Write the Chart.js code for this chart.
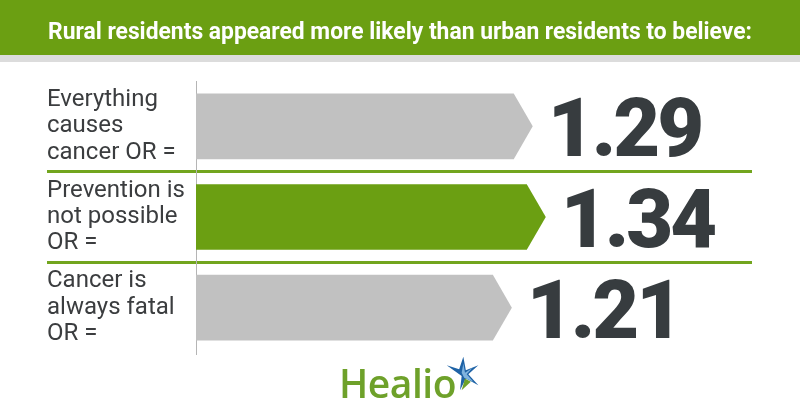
<!DOCTYPE html>
<html>
<head>
<meta charset="utf-8">
<script src="https://cdn.jsdelivr.net/npm/chart.js@4.4.1/dist/chart.umd.min.js"></script>
<style>
  body { margin: 0; background: #fff; }
  #wrap { position: relative; width: 800px; height: 420px; }
  #logo { position: absolute; left: 339px; top: 363px; font-family: "Open Sans", sans-serif; font-weight: 600; font-size: 39px; color: #6ea12a; line-height: 1; letter-spacing: -0.5px; }
  #star { position: absolute; left: 445px; top: 356px; }
</style>
</head>
<body>
<div id="wrap">
  <canvas id="chart" width="800" height="420"></canvas>
  <div id="logo">Healio</div>
  <svg id="star" width="40" height="40" viewBox="0 0 48 46">
    <polygon points="2,10 17,15 22,0 25,16 40,10 28,21 40,34 25,26 18,40 20,23" fill="#1f63a6"/>
    <polygon points="22,8 24,19 33,13 26,21 34,30 23,25 20,19" fill="#7fb3de"/>
    <polygon points="24,26 31,30 20,40" fill="#6ea12a"/>
  </svg>
</div>
<script>
var title = 'Rural residents appeared more likely than urban residents to believe:';
var categories = [
  ['Everything', 'causes', 'cancer OR ='],
  ['Prevention is', 'not possible', 'OR ='],
  ['Cancer is', 'always fatal', 'OR =']
];
var oddsRatios = [1.29, 1.34, 1.21];
var barColors = ['#c1c1c1', '#6b9f12', '#c1c1c1'];

// green header band + condensed title
var headerPlugin = {
  id: 'header',
  beforeDraw: function(chart) {
    var ctx = chart.ctx;
    ctx.save();
    ctx.fillStyle = '#6b9f12';
    ctx.fillRect(0, 0, chart.width, 55);
    ctx.fillStyle = '#dcdcdc';
    ctx.fillRect(0, 55, chart.width, 7);
    ctx.font = 'bold 23px Roboto';
    ctx.fillStyle = '#ffffff';
    ctx.textAlign = 'left';
    ctx.textBaseline = 'alphabetic';
    var w = ctx.measureText(title).width;
    var sx = 704 / w;
    ctx.translate(48, 39);
    ctx.scale(sx, 1);
    ctx.fillText(title, 0, 0);
    ctx.restore();
  }
};

var arrowPlugin = {
  id: 'arrows',
  beforeDatasetDraw: function() { return false; },
  afterDatasetsDraw: function(chart) {
    var ctx = chart.ctx;
    var meta = chart.getDatasetMeta(0);
    ctx.save();
    meta.data.forEach(function(bar, i) {
      var top = bar.y - bar.height / 2, bottom = bar.y + bar.height / 2;
      var point = 19;
      ctx.fillStyle = barColors[i];
      ctx.beginPath();
      ctx.moveTo(bar.base, top);
      ctx.lineTo(bar.x - point, top);
      ctx.lineTo(bar.x, bar.y);
      ctx.lineTo(bar.x - point, bottom);
      ctx.lineTo(bar.base, bottom);
      ctx.closePath();
      ctx.fill();
      ctx.fillStyle = '#373c3f';
      ctx.font = '900 81px Roboto';
      ctx.letterSpacing = '-3px';
      ctx.textAlign = 'left';
      ctx.textBaseline = 'alphabetic';
      ctx.fillText(oddsRatios[i].toFixed(2), bar.x + 15, bar.y + 30);
    });
    ctx.restore();
  }
};

new Chart(document.getElementById('chart'), {
  type: 'bar',
  data: {
    labels: categories,
    datasets: [{ data: oddsRatios, backgroundColor: barColors, borderWidth: 0, categoryPercentage: 1, barPercentage: 0.725 }]
  },
  options: {
    indexAxis: 'y',
    responsive: false,
    animation: false,
    events: [],
    layout: { padding: { left: 47, right: 48, top: 81, bottom: 67 } },
    plugins: {
      legend: { display: false },
      tooltip: { enabled: false },
      title: { display: false }
    },
    scales: {
      x: { display: false, min: 0, max: 2.13 },
      y: {
        afterFit: function(scale) { scale.width = 149; },
        border: { display: true, color: '#b5b5b5', width: 1 },
        grid: {
          offset: true,
          drawTicks: true,
          tickLength: 149,
          lineWidth: 3,
          color: function(c) { return (c.index === 1 || c.index === 2) ? '#72a51e' : 'rgba(0,0,0,0)'; }
        },
        ticks: {
          crossAlign: 'far',
          color: '#3b3d3f',
          padding: 0,
          font: { family: 'Roboto', size: 24, lineHeight: 1.1 }
        }
      }
    }
  },
  plugins: [headerPlugin, arrowPlugin]
});
</script>
</body>
</html>
